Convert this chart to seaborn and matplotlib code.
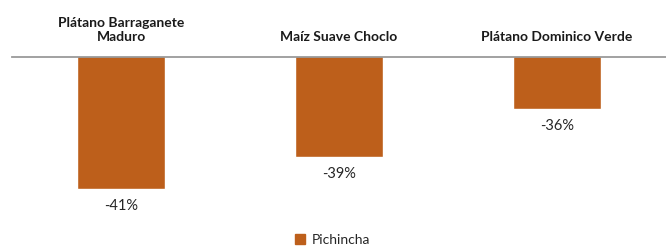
import seaborn as sns
import matplotlib.pyplot as plt
import pandas as pd

# Chart data
categories = ['Plátano Barraganete\nMaduro', 'Maíz Suave Choclo', 'Plátano Dominico Verde']
variation = [-41, -39, -36]
series_name = 'Pichincha'
value_labels = ['-41%', '-39%', '-36%']

df = pd.DataFrame({'producto': categories, 'variacion': variation, 'provincia': [series_name] * len(categories)})

sns.set_theme(style='white')
plt.rcParams['font.family'] = ['Lato', 'DejaVu Sans']

bar_color = '#BD5F1B'

fig = plt.figure(figsize=(6.66, 2.46), dpi=100)
ax = fig.add_axes([12 / 666, 36 / 246, 654 / 666, 153 / 246])

sns.barplot(data=df, x='producto', y='variacion', hue='provincia',
            palette=[bar_color], width=0.4, dodge=False, saturation=1,
            ax=ax, legend=False)

# Axis reaches only to about -32.7, like the original
ax.set_ylim(-42.32, -32.7)
ax.set_xlim(-0.5, len(categories) - 0.5)

# Value labels under each bar
for i, (v, lab) in enumerate(zip(variation, value_labels)):
    ax.annotate(lab, xy=(i, v), xytext=(0, -7), textcoords='offset points',
                ha='center', va='top', fontsize=10.5, color='#262626')

# Category labels above the zero line (centered, multi-line)
for i, cat in enumerate(categories):
    ax.annotate(cat, xy=(i, 1), xycoords=('data', 'axes fraction'),
                xytext=(0, 10), textcoords='offset points',
                ha='center', va='bottom', multialignment='center',
                fontsize=10, fontweight='bold', color='#1a1a1a')

ax.set_xticks([])
ax.set_yticks([])
ax.set_xlabel('')
ax.set_ylabel('')

for side in ['left', 'right', 'bottom']:
    ax.spines[side].set_visible(False)
ax.spines['top'].set_color('#9a9a9a')
ax.spines['top'].set_linewidth(1.3)

# Legend
handle = plt.Rectangle((0, 0), 1, 1, color=bar_color)
fig.legend([handle], [series_name], loc='center', bbox_to_anchor=(0.5, 6 / 246),
           frameon=False, fontsize=10, handlelength=0.7, handleheight=0.7,
           handletextpad=0.5, borderaxespad=0)

plt.savefig('out.png', dpi=100)
